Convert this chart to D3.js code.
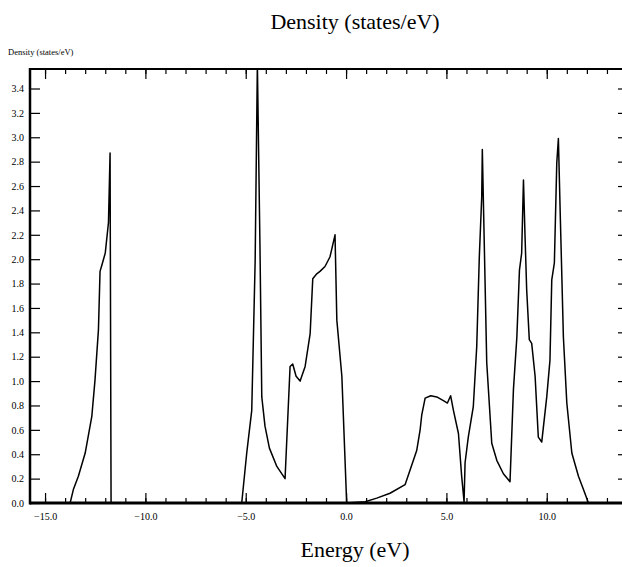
<!doctype html>
<html>
<head>
<meta charset="utf-8"/>
<title>Density of states</title>
<script src="https://cdnjs.cloudflare.com/ajax/libs/d3/7.8.5/d3.min.js"></script>
<style>
  body { margin: 0; background: #fff; }
  text { font-family: "Liberation Serif", "Times New Roman", serif; fill: #000; }
</style>
</head>
<body>
<svg id="chart" width="622" height="567"></svg>
<script>
// energy (eV) and density (states/eV)
var energy = [-15.75, -13.75, -13.59, -13.34, -13.0, -12.67, -12.51, -12.34, -12.26, -12.17, -12.0, -11.84, -11.76, -11.71,
  -5.2, -4.95, -4.7, -4.53, -4.42, -4.29, -4.2, -4.04, -3.82, -3.45, -3.04, -2.79, -2.66, -2.49, -2.29, -2.04, -1.79, -1.66, -1.46, -1.3, -1.05, -0.8, -0.55, -0.46, -0.21, 0.03,
  0.95, 1.53, 2.19, 2.94, 3.19, 3.52, 3.69, 3.77, 3.94, 4.22, 4.52, 4.85, 5.05, 5.21, 5.35, 5.6, 5.76, 5.88,
  5.93, 6.09, 6.34, 6.51, 6.64, 6.76, 6.79, 6.88, 7.01, 7.26, 7.51, 7.84, 8.17, 8.34, 8.51, 8.64, 8.75, 8.84, 8.92, 9.0, 9.13, 9.25, 9.42, 9.58, 9.75, 10.0, 10.16, 10.25, 10.38, 10.5, 10.58, 10.68, 10.83, 11.0, 11.25, 11.58, 11.83, 12.08, 13.75];
var density = [0, 0, 0.11, 0.22, 0.41, 0.71, 1.01, 1.42, 1.9, 1.95, 2.05, 2.3, 2.87, 0,
  0, 0.41, 0.76, 1.99, 3.6, 2.1, 0.87, 0.63, 0.45, 0.3, 0.2, 1.12, 1.14, 1.04, 1.0, 1.12, 1.39, 1.84, 1.88, 1.9, 1.94, 2.02, 2.2, 1.5, 1.04, 0,
  0.01, 0.04, 0.08, 0.15, 0.27, 0.43, 0.6, 0.72, 0.86, 0.88, 0.87, 0.84, 0.82, 0.88, 0.76, 0.57, 0.22, 0.01,
  0.33, 0.54, 0.79, 1.28, 2.02, 2.51, 2.9, 2.18, 1.15, 0.49, 0.35, 0.24, 0.175, 0.93, 1.36, 1.91, 2.05, 2.65, 2.18, 1.75, 1.34, 1.31, 1.04, 0.54, 0.5, 0.87, 1.17, 1.83, 1.97, 2.79, 2.99, 2.32, 1.36, 0.82, 0.41, 0.22, 0.11, 0, 0];

var xTicks = d3.range(-15, 14, 1);
var xMajor = [-15, -10, -5, 0, 5, 10];
var yTicks = d3.range(0, 3.45, 0.2);

var plotL = 30, plotR = 622, plotT = 69, plotB = 503;
var svg = d3.select("#chart");

var x = d3.scaleLinear().domain([-15.75, 13.75]).range([plotL, plotR]);
var y = d3.scaleLinear().domain([0, 3.56]).range([plotB, plotT]);
var fmt = d3.format(".1f");

svg.append("defs").append("clipPath").attr("id", "clip")
  .append("rect").attr("x", plotL).attr("y", plotT).attr("width", plotR - plotL).attr("height", plotB - plotT);

// curve
var pts = energy.map((e, i) => [e, density[i]]);
svg.append("path")
  .datum(pts)
  .attr("clip-path", "url(#clip)")
  .attr("fill", "none")
  .attr("stroke", "#000")
  .attr("stroke-width", 1.5)
  .attr("stroke-linejoin", "round")
  .attr("d", d3.line().x(d => x(d[0])).y(d => y(d[1])));

// bottom axis: minor + major ticks pointing up
svg.append("g").attr("transform", "translate(0," + plotB + ")")
  .call(d3.axisBottom(x).tickValues(xTicks).tickSize(-5).tickFormat(""))
  .call(g => g.select(".domain").remove());
svg.append("g").attr("transform", "translate(0," + plotB + ")")
  .call(d3.axisBottom(x).tickValues(xMajor).tickSizeInner(-10).tickSizeOuter(0).tickPadding(10).tickFormat(fmt))
  .call(g => g.select(".domain").remove())
  .call(g => g.selectAll("text").attr("font-size", 10).attr("font-family", "Liberation Serif"));

// top axis: ticks pointing down
svg.append("g").attr("transform", "translate(0," + plotT + ")")
  .call(d3.axisTop(x).tickValues(xTicks).tickSize(-5).tickFormat(""))
  .call(g => g.select(".domain").remove());
svg.append("g").attr("transform", "translate(0," + plotT + ")")
  .call(d3.axisTop(x).tickValues(xMajor).tickSize(-10).tickFormat(""))
  .call(g => g.select(".domain").remove());

// left axis
svg.append("g").attr("transform", "translate(" + plotL + ",0)")
  .call(d3.axisLeft(y).tickValues(yTicks).tickSizeInner(-10).tickSizeOuter(0).tickPadding(6).tickFormat(fmt))
  .call(g => g.select(".domain").remove())
  .call(g => g.selectAll("text").attr("font-size", 10).attr("font-family", "Liberation Serif"));

// right axis ticks (axis line sits just off the page)
svg.append("g").attr("transform", "translate(625,0)")
  .call(d3.axisRight(y).tickValues(yTicks.slice(1)).tickSize(-7).tickFormat(""))
  .call(g => g.select(".domain").remove());

svg.selectAll(".tick line").attr("stroke", "#000").attr("stroke-width", 1.2);

// frame lines
svg.append("line").attr("x1", plotL).attr("x2", plotR).attr("y1", plotB).attr("y2", plotB)
  .attr("stroke", "#000").attr("stroke-width", 3);
svg.append("line").attr("x1", plotL).attr("x2", plotR).attr("y1", plotT).attr("y2", plotT)
  .attr("stroke", "#000").attr("stroke-width", 2);
svg.append("line").attr("x1", plotL).attr("x2", plotL).attr("y1", plotT - 1).attr("y2", plotB + 1.5)
  .attr("stroke", "#000").attr("stroke-width", 2.5);

// titles
svg.append("text").attr("x", 355).attr("y", 29).attr("text-anchor", "middle")
  .attr("font-size", 22).text("Density (states/eV)");
svg.append("text").attr("x", 8).attr("y", 55)
  .attr("font-size", 8.5).text("Density (states/eV)");
svg.append("text").attr("x", 355).attr("y", 557).attr("text-anchor", "middle")
  .attr("font-size", 22).text("Energy (eV)");
</script>
</body>
</html>
